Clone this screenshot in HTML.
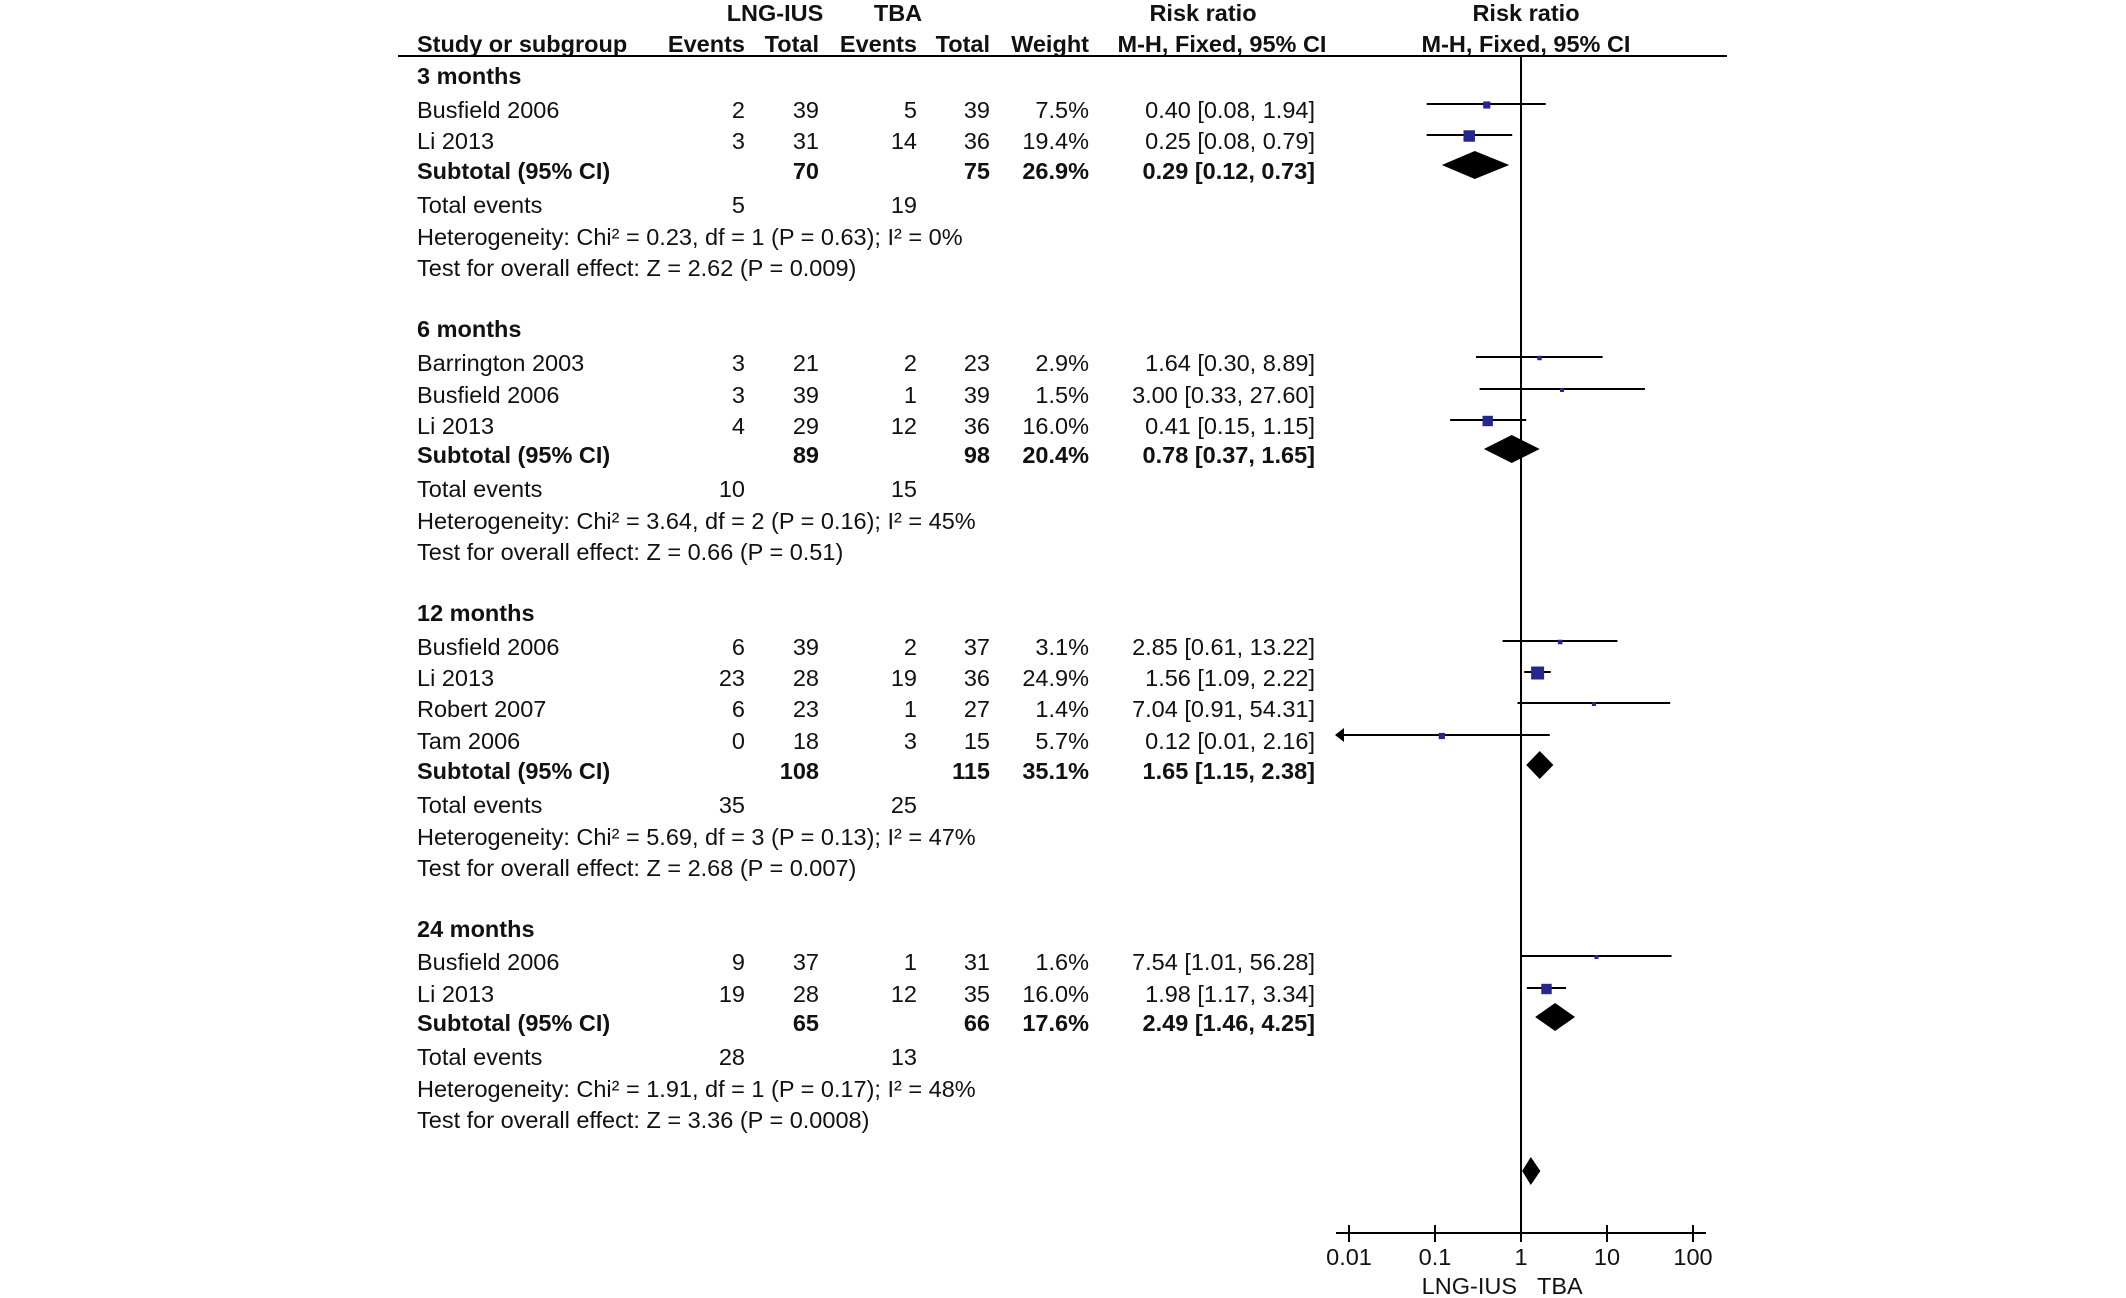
<!DOCTYPE html>
<html><head><meta charset="utf-8"><style>
html,body{margin:0;padding:0;background:#fff;}
svg{display:block;font-family:"Liberation Sans",Arial,sans-serif;}
.t{font-size:23.5px;fill:#111;}
.b{font-weight:bold;}
</style></head><body>
<svg id="plot" width="2126" height="1298" viewBox="0 0 2126 1298">
<g id="txt"></g><g id="marks"></g>
</svg>
<script>
// Study data (row rendering)
const studyNames=["Busfield 2006","Li 2013","Barrington 2003","Busfield 2006","Li 2013","Busfield 2006","Li 2013","Robert 2007","Tam 2006","Busfield 2006","Li 2013"];
const studyRows=[110,141,363,395,426,647,678,709,741,962,994];
const ev1=[2,3,3,3,4,6,23,6,0,9,19];
const tot1=[39,31,21,39,29,39,28,23,18,37,28];
const ev2=[5,14,2,1,12,2,19,1,3,1,12];
const tot2=[39,36,23,39,36,37,36,27,15,31,35];
const weights=[7.5,19.4,2.9,1.5,16.0,3.1,24.9,1.4,5.7,1.6,16.0];
const rr=[0.40,0.25,1.64,3.00,0.41,2.85,1.56,7.04,0.12,7.54,1.98];
const lo=[0.08,0.08,0.30,0.33,0.15,0.61,1.09,0.91,0.01,1.01,1.17];
const hi=[1.94,0.79,8.89,27.60,1.15,13.22,2.22,54.31,2.16,56.28,3.34];
// Subgroups
const groupNames=["3 months","6 months","12 months","24 months"];
const groupRows=[76,329,613,929];
const subRows=[171,455,771,1023];
const subT1=[70,89,108,65];
const subT2=[75,98,115,66];
const subW=[26.9,20.4,35.1,17.6];
const subRR=[0.29,0.78,1.65,2.49];
const subLo=[0.12,0.37,1.15,1.46];
const subHi=[0.73,1.65,2.38,4.25];
const totRows=[205,489,805,1057];
const totE1=[5,10,35,28];
const totE2=[19,15,25,13];
const hetText=["Heterogeneity: Chi² = 0.23, df = 1 (P = 0.63); I² = 0%","Heterogeneity: Chi² = 3.64, df = 2 (P = 0.16); I² = 45%","Heterogeneity: Chi² = 5.69, df = 3 (P = 0.13); I² = 47%","Heterogeneity: Chi² = 1.91, df = 1 (P = 0.17); I² = 48%"];
const testText=["Test for overall effect: Z = 2.62 (P = 0.009)","Test for overall effect: Z = 0.66 (P = 0.51)","Test for overall effect: Z = 2.68 (P = 0.007)","Test for overall effect: Z = 3.36 (P = 0.0008)"];
const overall=[1.3,1.03,1.68];
const tickVals=[0.01,0.1,1,10,100];
const tickLabels=["0.01","0.1","1","10","100"];

const NS="http://www.w3.org/2000/svg";
const T=document.getElementById('txt'),M=document.getElementById('marks');
const X=v=>1521+86*Math.log10(v);
function el(tag,attrs,parent){const e=document.createElementNS(NS,tag);for(const k in attrs)e.setAttribute(k,attrs[k]);parent.appendChild(e);return e;}
function tx(x,y,s,anchor,bold,name){const e=el('text',{x:x,y:y+8,class:'t'+(bold?' b':''),'text-anchor':anchor||'start'},T);e.textContent=s;

return e;}
const fmt=v=>v.toFixed(2);
const ci=(a,b,c)=>fmt(a)+' ['+fmt(b)+', '+fmt(c)+']';
// headers
tx(775,13,"LNG-IUS","middle",true,"header-lng-ius");
tx(898,13,"TBA","middle",true,"header-tba");
tx(1203,13,"Risk  ratio","middle",true,"header-risk-ratio");
tx(1526,13,"Risk  ratio","middle",true,"header-risk-ratio-plot");
tx(417,44,"Study or subgroup","start",true,"header-study");
tx(745,44,"Events","end",true,"header-events1");
tx(819,44,"Total","end",true,"header-total1");
tx(917,44,"Events","end",true,"header-events2");
tx(990,44,"Total","end",true,"header-total2");
tx(1089,44,"Weight","end",true,"header-weight");
tx(1222,44,"M-H, Fixed, 95% CI","middle",true,"header-ci");
tx(1526,44,"M-H, Fixed, 95% CI","middle",true,"header-ci-plot");
let ln=el('line',{x1:398,x2:1727,y1:56,y2:56,stroke:'#000','stroke-width':2},M);


let vl=el('line',{x1:X(1),x2:X(1),y1:56,y2:1233,stroke:'#000','stroke-width':2},M);


// studies
for(let i=0;i<studyNames.length;i++){const y=studyRows[i];
tx(417,y,studyNames[i],'start',false,'study-name');
tx(745,y,String(ev1[i]),'end',false,'events1');
tx(819,y,String(tot1[i]),'end',false,'total1');
tx(917,y,String(ev2[i]),'end',false,'events2');
tx(990,y,String(tot2[i]),'end',false,'total2');
tx(1089,y,weights[i].toFixed(1)+'%','end',false,'weight');
tx(1315,y,ci(rr[i],lo[i],hi[i]),'end',false,'ci-text');
const my=y-6;const l=Math.max(lo[i],0.01),h=Math.min(hi[i],100);
let xl=X(l);if(lo[i]<=0.01)xl=1341;
const line=el('line',{x1:xl,x2:X(h),y1:my,y2:my,stroke:'#000','stroke-width':2},M);


if(lo[i]<=0.01){const a=el('polygon',{points:`1335,${my} 1344,${my-7} 1344,${my+7}`,fill:'#000'},M);

}
const s=Math.max(4,Math.sqrt(weights[i])*2.6);
const sq=el('rect',{x:X(rr[i])-s/2,y:my-s/2+1,width:s,height:s,fill:'#26268f'},M);

}
// groups
for(let g=0;g<4;g++){
tx(417,groupRows[g],groupNames[g],'start',true,'subgroup-title');
const y=subRows[g];
tx(417,y,'Subtotal (95% CI)','start',true,'subtotal-label');
tx(819,y,String(subT1[g]),'end',true,'subtotal-total1');
tx(990,y,String(subT2[g]),'end',true,'subtotal-total2');
tx(1089,y,subW[g].toFixed(1)+'%','end',true,'subtotal-weight');
tx(1315,y,ci(subRR[g],subLo[g],subHi[g]),'end',true,'subtotal-ci');
const my=y-6;
const d=el('polygon',{points:`${X(subLo[g])},${my} ${X(subRR[g])},${my-14} ${X(subHi[g])},${my} ${X(subRR[g])},${my+14}`,fill:'#000'},M);


tx(417,totRows[g],'Total events','start',false,'total-events-label');
tx(745,totRows[g],String(totE1[g]),'end',false,'total-events1');
tx(917,totRows[g],String(totE2[g]),'end',false,'total-events2');
tx(417,totRows[g]+32,hetText[g],'start',false,'heterogeneity');
tx(417,totRows[g]+63,testText[g],'start',false,'overall-effect');}
// overall diamond
const od=el('polygon',{points:`${X(overall[1])},1171 ${X(overall[0])},1157 ${X(overall[2])},1171 ${X(overall[0])},1185`,fill:'#000'},M);


// axis
const ax=el('line',{x1:1336,x2:1706,y1:1233,y2:1233,stroke:'#000','stroke-width':2},M);


for(let i=0;i<tickVals.length;i++){const x=X(tickVals[i]);
const tk=el('line',{x1:x,x2:x,y1:1225,y2:1242,stroke:'#000','stroke-width':2},M);


tx(x,1257,tickLabels[i],'middle',false,'x-tick-label');}
tx(1517,1286,'LNG-IUS','end',false,'axis-label-left');
tx(1537,1286,'TBA','start',false,'axis-label-right');
</script>
</body></html>
